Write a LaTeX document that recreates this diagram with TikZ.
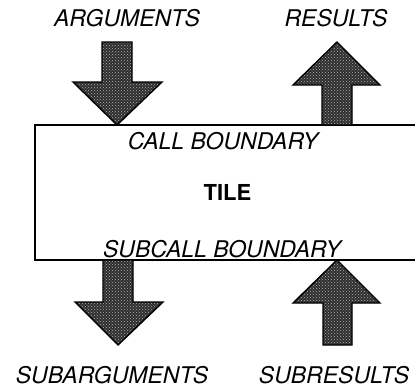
\documentclass[tikz,border=0pt]{standalone}
\usepackage{fontspec}
\setmainfont{TeX Gyre Heros}
\usetikzlibrary{patterns}
\begin{document}
\begin{tikzpicture}[x=1pt,y=-1pt,
  blockarrow/.style={draw=black, line width=1.4pt, line join=miter,
    preaction={fill=black!82}, pattern=crosshatch dots, pattern color=white!70!black},
  lbl/.style={font=\fontsize{23}{23}\selectfont\itshape, inner sep=0pt},
  title/.style={font=\fontsize{22}{22}\selectfont\bfseries, inner sep=0pt}]
\useasboundingbox (0,0) rectangle (415,386);
% the tile: its right side runs past the edge
\draw[line width=1.8pt] (430,125) -- (35,125) -- (35,260) -- (430,260);
\node[lbl] (cb) at (223,141.5) {CALL BOUNDARY};
\node[title] (tile) at (227.5,192.5) {TILE};
\node[lbl] (scb) at (222,249.5) {SUBCALL BOUNDARY};
% arguments flow down into the tile
\path[blockarrow] (102,42) -- (132,42) -- (132,82) -- (162,82) -- (117,125)
  -- (73,82) -- (102,82) -- cycle;
% results flow up out of it
\path[blockarrow] (322,125) -- (322,85) -- (293,85) -- (337,42) -- (380,85)
  -- (352,85) -- (352,125) -- cycle;
% subarguments leave through the subcall boundary
\path[blockarrow] (103,260) -- (133,260) -- (133,302) -- (163,302) -- (118,345)
  -- (75,302) -- (103,302) -- cycle;
% subresults come back in
\path[blockarrow] (323,345) -- (323,303) -- (293,303) -- (337,260) -- (380,303)
  -- (352,303) -- (352,345) -- cycle;
\node[lbl] (args) at (127,18.5) {ARGUMENTS};
\node[lbl] (res) at (336,18.5) {RESULTS};
\node[lbl] (sargs) at (112,375) {SUBARGUMENTS};
\node[lbl] (sres) at (334,375) {SUBRESULTS};
\end{tikzpicture}
\end{document}
